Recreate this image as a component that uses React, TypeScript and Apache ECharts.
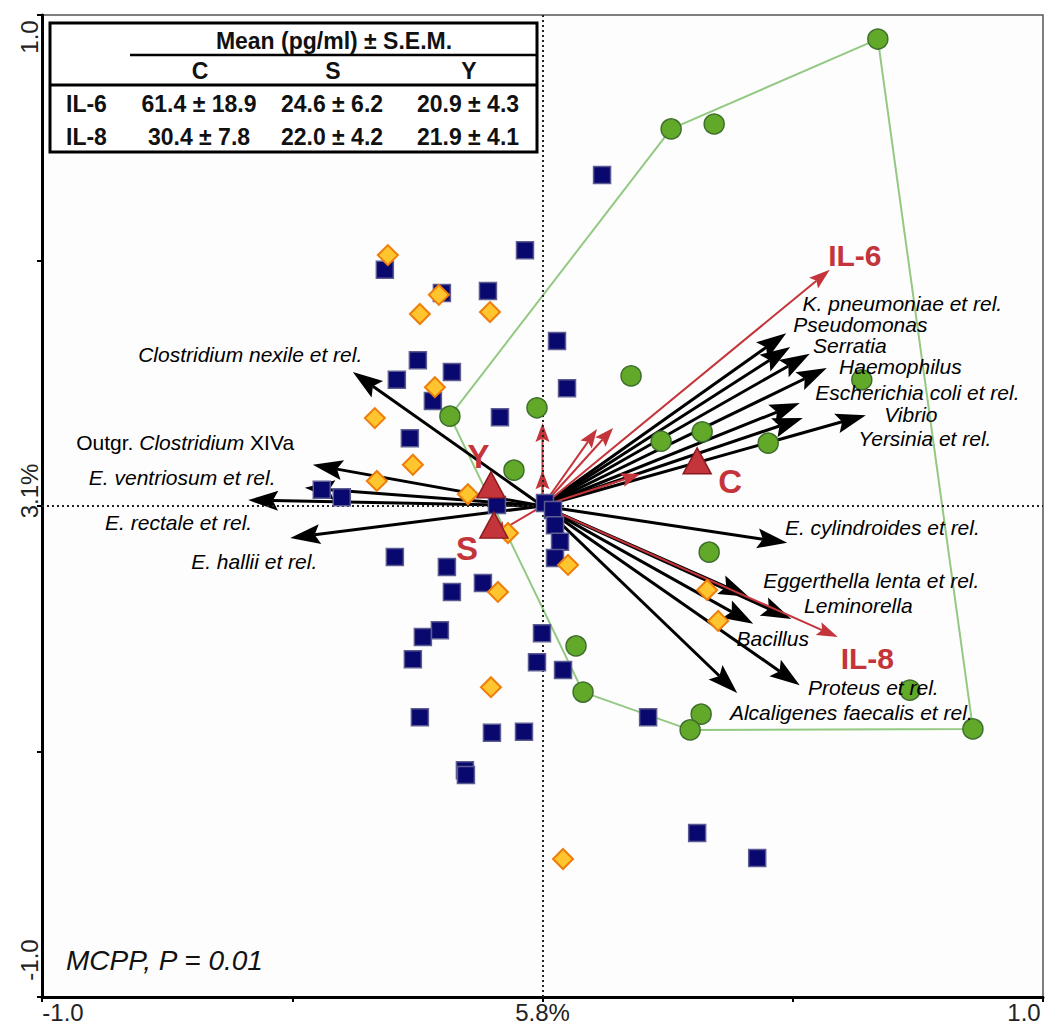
import React, { useEffect, useRef } from 'react';
import * as echarts from 'echarts';

const FONT = '"Liberation Sans", Arial, Helvetica, sans-serif';

// Sample scores on the first two ordination axes, per group
const groupC: number[][] = [
  [0.670, 0.951], [0.257, 0.768], [0.343, 0.778], [0.177, 0.265], [0.638, 0.257],
  [-0.011, 0.200], [-0.185, 0.183], [0.237, 0.132], [0.319, 0.151], [0.451, 0.128],
  [-0.057, 0.073], [0.333, -0.094], [0.067, -0.285], [0.081, -0.379], [0.734, -0.375],
  [0.317, -0.424], [0.295, -0.456], [0.860, -0.454],
];
// Group C samples that form its outline (closed)
const hullC = [0, 17, 16, 13, 6, 1, 0];

const groupS: number[][] = [
  [0.119, 0.674], [-0.035, 0.521], [-0.315, 0.481], [-0.201, 0.434], [-0.109, 0.438],
  [0.029, 0.336], [0.049, 0.240], [-0.249, 0.297], [-0.291, 0.257], [-0.181, 0.273],
  [-0.219, 0.214], [-0.085, 0.181], [-0.265, 0.138], [-0.441, 0.033], [-0.401, 0.018],
  [-0.091, 0.002], [0.005, 0.006], [0.021, -0.008], [0.025, -0.039], [0.035, -0.073],
  [0.025, -0.106], [-0.295, -0.104], [-0.191, -0.124], [-0.181, -0.175], [-0.119, -0.157],
  [-0.001, -0.259], [-0.205, -0.253], [-0.239, -0.267], [-0.259, -0.312], [-0.011, -0.318],
  [0.041, -0.334], [0.211, -0.430], [-0.245, -0.430], [-0.101, -0.462], [-0.037, -0.460],
  [-0.155, -0.538], [-0.153, -0.548], [0.309, -0.666], [0.429, -0.717],
];

const groupY: number[][] = [
  [-0.309, 0.511], [-0.207, 0.430], [-0.245, 0.391], [-0.105, 0.395], [-0.215, 0.242],
  [-0.335, 0.179], [-0.259, 0.084], [-0.331, 0.051], [-0.149, 0.024], [-0.069, -0.055],
  [0.051, -0.120], [-0.089, -0.175], [0.329, -0.171], [0.351, -0.234], [-0.103, -0.369],
  [0.041, -0.719],
];

// Group centroids
const centroidNames = ['C', 'Y', 'S'];
const centroids: number[][] = [[0.309, 0.092], [-0.103, 0.043], [-0.097, -0.039]];
const centroidLabelAt: number[][] = [[0.375, 0.050], [-0.128, 0.100], [-0.151, -0.086]];

// Bacterial groups (explanatory variables)
const speciesNames = [
  'Clostridium nexile et rel.',
  '{n|Outgr.} Clostridium {n|XIVa}',
  'E. ventriosum et rel.',
  'E. rectale et rel.',
  'E. hallii et rel.',
  'K. pneumoniae et rel.',
  'Pseudomonas',
  'Serratia',
  'Haemophilus',
  'Escherichia coli et rel.',
  'Vibrio',
  'Yersinia et rel.',
  'E. cylindroides et rel.',
  'Eggerthella lenta et rel.',
  'Leminorella',
  'Bacillus',
  'Proteus et rel.',
  'Alcaligenes faecalis et rel.',
];
const speciesTips: number[][] = [
  [-0.379, 0.273], [-0.459, 0.084], [-0.475, 0.037], [-0.588, 0.012], [-0.504, -0.065],
  [0.487, 0.352], [0.495, 0.324], [0.534, 0.310], [0.568, 0.281], [0.514, 0.210],
  [0.646, 0.185], [0.520, 0.179], [0.489, -0.075], [0.412, -0.185], [0.497, -0.230],
  [0.421, -0.240], [0.514, -0.365], [0.389, -0.381],
];
const speciesLabelAt: number[][] = [
  [-0.584, 0.308], [-0.714, 0.130], [-0.720, 0.059], [-0.727, -0.033], [-0.576, -0.114],
  [0.719, 0.413], [0.635, 0.370], [0.614, 0.327], [0.715, 0.284], [0.749, 0.232],
  [0.736, 0.186], [0.764, 0.138], [0.679, -0.043], [0.657, -0.151], [0.631, -0.202],
  [0.460, -0.269], [0.661, -0.369], [0.617, -0.420],
];

// Cytokines and supplementary vectors
const cytokineNames = ['IL-6', 'IL-8'];
const cytokineTips: number[][] = [[0.574, 0.481], [0.590, -0.267]];
const cytokineLabelAt: number[][] = [[0.624, 0.511], [0.649, -0.310]];
const minorVectors: number[][] = [
  [0, 0.169], [0, 0.073], [0.109, 0.157], [0.141, 0.159], [0.195, 0.065], [-0.105, -0.063],
];

// Axis ticks
const xTickValues = [-1, -0.5, 0, 0.5, 1];
const xTickLabels = ['-1.0', '', '5.8%', '', '1.0'];
const yTickValues = [-1, -0.5, 0, 0.5, 1];
const yTickLabels = ['-1.0', '', '3.1%', '', '1.0'];

// Cytokine summary table
const tableTitle = 'Mean (pg/ml) \u00b1 S.E.M.';
const tableColumns = ['C', 'S', 'Y'];
const tableRows = ['IL-6', 'IL-8'];
const tableValues = [
  ['61.4 \u00b1 18.9', '24.6 \u00b1 6.2', '20.9 \u00b1 4.3'],
  ['30.4 \u00b1 7.8', '22.0 \u00b1 4.2', '21.9 \u00b1 4.1'],
];

const NAVY = '#08086E';
const RED = '#C4353B';

function tickFormatter(values: number[], labels: string[]) {
  return (v: number) => {
    const i = values.findIndex((t) => Math.abs(t - v) < 1e-6);
    const s = i >= 0 ? labels[i] : '';
    if (!s) return '';
    const key = i === 0 ? 'lo' : i === values.length - 1 ? 'hi' : 'mid';
    return `{${key}|${s}}`;
  };
}

function arrowSeries(
  name: string, tips: number[][], color: string, lineWidth: number,
  headLen: number, headHalf: number, z: number,
) {
  return {
    type: 'custom',
    name,
    coordinateSystem: 'cartesian2d',
    data: tips,
    encode: { x: 0, y: 1 },
    z,
    silent: true,
    renderItem: (_params: any, api: any) => {
      const o = api.coord([0, 0]);
      const t = api.coord([api.value(0), api.value(1)]);
      const dx = t[0] - o[0];
      const dy = t[1] - o[1];
      const len = Math.hypot(dx, dy) || 1;
      const ux = dx / len;
      const uy = dy / len;
      const px = -uy;
      const py = ux;
      const bx = t[0] - ux * headLen;
      const by = t[1] - uy * headLen;
      const nx = t[0] - ux * headLen * 0.82;
      const ny = t[1] - uy * headLen * 0.82;
      return {
        type: 'group',
        children: [
          {
            type: 'line',
            shape: { x1: o[0], y1: o[1], x2: nx, y2: ny },
            style: { stroke: color, lineWidth },
          },
          {
            type: 'polygon',
            shape: {
              points: [
                [t[0], t[1]],
                [bx + px * headHalf, by + py * headHalf],
                [nx, ny],
                [bx - px * headHalf, by - py * headHalf],
              ],
            },
            style: { fill: color },
          },
        ],
      };
    },
  };
}

function tableGraphic() {
  const left = 50;
  const top = 23;
  const right = 537;
  const bottom = 152;
  const colX = [200, 333, 469];
  const rowY = [104, 137];
  const bold = `bold 23px ${FONT}`;
  const txt = (text: string, x: number, y: number, align: string) => ({
    type: 'text',
    x,
    y,
    z: 101,
    style: {
      text,
      font: bold,
      fill: '#111',
      textAlign: align,
      textVerticalAlign: 'middle',
      align,
      verticalAlign: 'middle',
    },
  });
  const items: any[] = [
    {
      type: 'rect',
      z: 100,
      shape: { x: left, y: top, width: right - left, height: bottom - top },
      style: { fill: '#fff', stroke: '#000', lineWidth: 3 },
    },
    {
      type: 'line',
      z: 101,
      shape: { x1: 130, y1: 55, x2: right, y2: 55 },
      style: { stroke: '#000', lineWidth: 2.5 },
    },
    {
      type: 'line',
      z: 101,
      shape: { x1: left, y1: 85, x2: right, y2: 85 },
      style: { stroke: '#000', lineWidth: 3 },
    },
    txt(tableTitle, 334, 41, 'center'),
  ];
  tableColumns.forEach((c, j) => items.push(txt(c, colX[j], 71, 'center')));
  tableRows.forEach((r, i) => {
    items.push(txt(r, 66, rowY[i], 'left'));
    tableValues[i].forEach((v, j) => items.push(txt(v, colX[j] - 1, rowY[i], 'center')));
  });
  return items;
}

function labelSeries(name: string, names: string[], at: number[][], label: any) {
  return {
    type: 'scatter',
    name,
    data: names.map((n, i) => ({ name: n, value: at[i] })),
    symbolSize: 0,
    z: 9,
    silent: true,
    itemStyle: { opacity: 1 },
    label: { show: true, position: 'inside', formatter: '{b}', opacity: 1, ...label },
  };
}

export default function App() {
  const ref = useRef<HTMLDivElement>(null);

  useEffect(() => {
    document.body.style.margin = '0';
    if (!ref.current) return;
    const chart = echarts.init(ref.current, null, { renderer: 'svg' });

    const axisFont = { fontFamily: FONT, fontSize: 24, color: '#222' };

    const option: any = {
      animation: false,
      backgroundColor: '#ffffff',
      title: {
        text: 'MCPP, P = 0.01',
        left: 61,
        top: 941,
        textStyle: {
          fontFamily: FONT,
          fontSize: 28,
          fontStyle: 'italic',
          fontWeight: 'normal',
          color: '#111',
        },
      },
      grid: {
        left: 42,
        top: 15,
        right: 2,
        bottom: 28,
        show: true,
        borderColor: '#555',
        borderWidth: 1.5,
        backgroundColor: '#fdfdfd',
      },
      xAxis: {
        type: 'value',
        min: -1,
        max: 1,
        interval: 0.5,
        axisLine: { show: true, onZero: false, lineStyle: { color: '#000', width: 3 } },
        axisTick: { show: true, length: 5, lineStyle: { color: '#000', width: 2 } },
        splitLine: { show: false },
        axisLabel: {
          margin: 3,
          ...axisFont,
          formatter: tickFormatter(xTickValues, xTickLabels),
          rich: {
            lo: { ...axisFont, padding: [0, 0, 0, 42] },
            hi: { ...axisFont, padding: [0, 38, 0, 0] },
            mid: { ...axisFont },
          },
        },
      },
      yAxis: {
        type: 'value',
        min: -1,
        max: 1,
        interval: 0.5,
        axisLine: { show: true, onZero: false, lineStyle: { color: '#000', width: 3 } },
        axisTick: { show: true, length: 5, lineStyle: { color: '#000', width: 2 } },
        splitLine: { show: false },
        axisLabel: {
          rotate: 90,
          margin: 1,
          ...axisFont,
          formatter: tickFormatter(yTickValues, yTickLabels),
          rich: {
            lo: { ...axisFont, padding: [0, 0, 0, 74] },
            hi: { ...axisFont, padding: [0, 44, 0, 0] },
            mid: { ...axisFont, padding: [0, 0, 0, 30] },
          },
        },
      },
      graphic: tableGraphic(),
      series: [
        {
          type: 'line',
          name: 'C outline',
          data: hullC.map((i) => groupC[i]),
          symbol: 'none',
          showSymbol: false,
          silent: true,
          z: 2,
          lineStyle: { color: '#93C983', width: 2 },
          markLine: {
            silent: true,
            symbol: 'none',
            label: { show: false },
            lineStyle: { type: [2, 3], color: '#222', width: 2 },
            data: [{ xAxis: 0 }, { yAxis: 0 }],
          },
        },
        arrowSeries('Bacteria', speciesTips, '#000', 3, 30, 10, 3),
        arrowSeries('Cytokines', cytokineTips, RED, 2, 21, 7, 4),
        arrowSeries('Other', minorVectors, RED, 2, 19, 7, 4),
        {
          type: 'scatter',
          name: 'S',
          data: groupS,
          symbol: 'rect',
          symbolSize: 17,
          z: 5,
          itemStyle: { color: NAVY, borderColor: '#5C5C92', borderWidth: 1.5, opacity: 1 },
        },
        {
          type: 'scatter',
          name: 'Y',
          data: groupY,
          symbol: 'diamond',
          symbolSize: 20,
          z: 6,
          itemStyle: { color: '#FFC52E', borderColor: '#EE7D0C', borderWidth: 2, opacity: 1 },
        },
        {
          type: 'scatter',
          name: 'C',
          data: groupC,
          symbol: 'circle',
          symbolSize: 20,
          z: 7,
          itemStyle: { color: '#62A92A', borderColor: '#3E6E2C', borderWidth: 1.5, opacity: 1 },
        },
        {
          type: 'scatter',
          name: 'Centroids',
          data: centroids,
          symbol: 'triangle',
          symbolSize: [28, 26],
          z: 8,
          itemStyle: { color: RED, borderColor: '#8C1B20', borderWidth: 1.5, opacity: 1 },
        },
        labelSeries('Bacteria labels', speciesNames, speciesLabelAt, {
          fontFamily: FONT,
          fontSize: 21,
          fontStyle: 'italic',
          color: '#000',
          lineHeight: 21,
          rich: {
            n: { fontFamily: FONT, fontSize: 21, fontStyle: 'normal', color: '#000', lineHeight: 21 },
          },
        }),
        labelSeries('Cytokine labels', cytokineNames, cytokineLabelAt, {
          fontFamily: FONT,
          fontSize: 30,
          fontWeight: 'bold',
          color: RED,
        }),
        labelSeries('Centroid labels', centroidNames, centroidLabelAt, {
          fontFamily: FONT,
          fontSize: 33,
          fontWeight: 'bold',
          color: RED,
        }),
      ],
    };

    chart.setOption(option);
    return () => chart.dispose();
  }, []);

  return <div ref={ref} style={{ width: 1045, height: 1025 }} />;
}
